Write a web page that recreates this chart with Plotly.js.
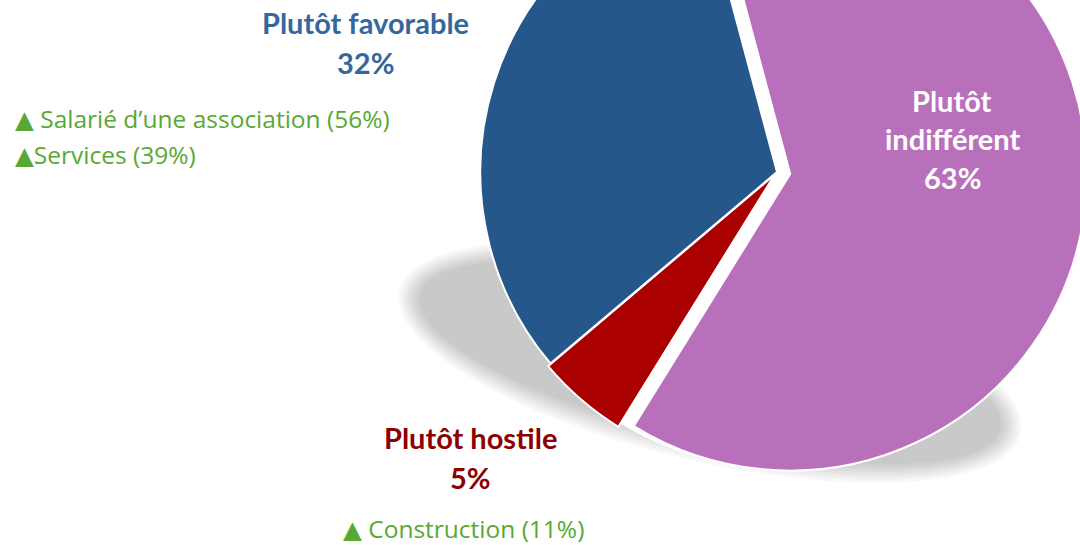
<!DOCTYPE html>
<html>
<head>
<meta charset="utf-8">
<script src="https://cdn.plot.ly/plotly-3.0.1.min.js"></script>
<style>
  html, body { margin: 0; padding: 0; width: 1080px; height: 545px; overflow: hidden; background: #ffffff; }
  #graphique { position: absolute; left: 0; top: -200px; width: 1300px; height: 800px; }
</style>
</head>
<body>
<div id="graphique"></div>
<script>
// données
const categories = ['Plutôt indifférent', 'Plutôt hostile', 'Plutôt favorable'];
const parts = [63, 5, 32];
const couleurs = ['#b970bb', '#aa0000', '#25578a'];
const notesFavorable = ['▲ Salarié d’une association (56%)', '▲Services (39%)'];
const notesHostile = ['▲ Construction (11%)'];

// le graphique est plus grand que la fenêtre, décalé vers le haut
const W = 1300, H = 800, TOP = 200;
function px(x) { return x / W; }
function py(y) { return 1 - (y + TOP) / H; }

const policeTitre = 'Lato, "DejaVu Sans", sans-serif';
const policeNote = '"Open Sans", "DejaVu Sans", sans-serif';
const vert = '#58a834';

function texte(t, x, y, taille, couleur, gras, ancre, police) {
  return {
    xref: 'paper', yref: 'paper',
    x: px(x), y: py(y),
    xanchor: ancre || 'center', yanchor: 'middle',
    text: gras ? '<b>' + t + '</b>' : t,
    showarrow: false,
    font: { family: police || policeTitre, size: taille, color: couleur }
  };
}

// ombre portée : ellipse inclinée, floutée par couches superposées
function cheminOmbre(e) {
  const ang = 13 * Math.PI / 180;
  const a = 305 + e, b = 86 + e;
  let d = '';
  for (let k = 0; k <= 72; k++) {
    const t = k * 5 * Math.PI / 180;
    const x = 710 + a * Math.cos(t) * Math.cos(ang) - b * Math.sin(t) * Math.sin(ang);
    const y = 362 + a * Math.cos(t) * Math.sin(ang) + b * Math.sin(t) * Math.cos(ang);
    d += (k === 0 ? 'M' : 'L') + px(x).toFixed(5) + ',' + py(y).toFixed(5);
  }
  return d + 'Z';
}
const ombre = [14, 11, 8, 5, 2, -1, -4, -7].map(e => ({
  type: 'path', xref: 'paper', yref: 'paper', layer: 'below',
  path: cheminOmbre(e),
  fillcolor: 'rgba(0,0,0,0.027)', line: { width: 0 }
}));

const fond = {
  type: 'pie',
  values: [1],
  labels: ['fond'],
  marker: { colors: ['#ffffff'], line: { width: 0 } },
  textinfo: 'none',
  hoverinfo: 'skip',
  showlegend: false,
  domain: { x: [px(479), px(1075)], y: [py(468), py(-128)] }
};

const camembert = {
  type: 'pie',
  values: parts,
  labels: categories,
  sort: false,
  direction: 'clockwise',
  rotation: -15,
  pull: [0.045, 0.012, 0],
  marker: { colors: couleurs, line: { color: '#ffffff', width: 2 } },
  textinfo: 'none',
  hoverinfo: 'label+percent',
  showlegend: false,
  domain: { x: [px(467), px(1087)], y: [py(482), py(-138)] }
};

const annotations = [
  texte(categories[2], 365, 22, 29, '#36679c', true),
  texte(parts[2] + '%', 365, 62, 29, '#36679c', true),
  texte('Plutôt', 952, 100, 29, '#ffffff', true),
  texte('indifférent', 952, 138, 29, '#ffffff', true),
  texte(parts[0] + '%', 952, 178, 29, '#ffffff', true),
  texte(categories[1], 470, 437, 29, '#8e0000', true),
  texte(parts[1] + '%', 470, 477, 29, '#8e0000', true),
  texte(notesFavorable[0], 13, 119, 24.5, vert, false, 'left', policeNote),
  texte(notesFavorable[1], 13, 154, 24.5, vert, false, 'left', policeNote),
  texte(notesHostile[0], 341, 528, 24.5, vert, false, 'left', policeNote)
];

const layout = {
  width: W,
  height: H,
  margin: { l: 0, r: 0, t: 0, b: 0 },
  paper_bgcolor: '#ffffff',
  showlegend: false,
  shapes: ombre,
  annotations: annotations
};

Plotly.newPlot('graphique', [fond, camembert], layout, { displayModeBar: false, staticPlot: true });
</script>
</body>
</html>
